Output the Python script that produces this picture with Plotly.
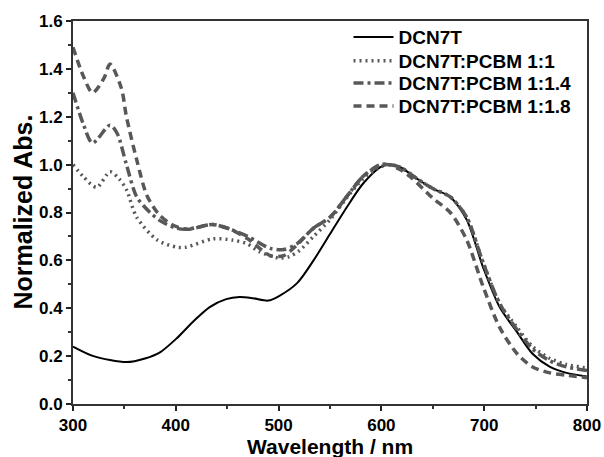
import plotly.graph_objects as go

wl_a = [300, 320, 352, 370, 385, 401, 417, 433, 449, 462, 475, 490, 500, 518, 534, 550, 566, 582, 599, 607, 618, 635, 650, 667, 683, 699, 715, 732, 747, 764, 780, 800]
dcn7t = [0.24, 0.20, 0.175, 0.19, 0.217, 0.275, 0.345, 0.405, 0.438, 0.447, 0.442, 0.432, 0.45, 0.505, 0.60, 0.71, 0.82, 0.92, 0.99, 1.0, 0.99, 0.94, 0.90, 0.865, 0.77, 0.57, 0.405, 0.30, 0.21, 0.155, 0.13, 0.115]

wl_b = [300, 310, 323, 336, 345, 352, 362, 382, 401, 410, 436, 455, 469, 482, 500, 510, 520, 534, 550, 566, 582, 599, 607, 618, 635, 650, 667, 683, 699, 715, 732, 747, 764, 780, 800]
blend_11 = [1.0, 0.95, 0.905, 0.97, 0.94, 0.895, 0.78, 0.685, 0.655, 0.655, 0.69, 0.685, 0.67, 0.635, 0.61, 0.615, 0.64, 0.70, 0.77, 0.86, 0.94, 0.99, 1.0, 0.99, 0.94, 0.90, 0.865, 0.78, 0.59, 0.42, 0.32, 0.24, 0.19, 0.165, 0.15]

wl_c = [300, 310, 319, 336, 343, 352, 362, 375, 385, 400, 411, 436, 453, 470, 492, 505, 518, 534, 550, 566, 582, 599, 607, 618, 635, 650, 667, 683, 699, 715, 732, 747, 764, 780, 800]
blend_114 = [1.30, 1.17, 1.09, 1.165, 1.13, 1.0, 0.865, 0.80, 0.765, 0.735, 0.73, 0.75, 0.73, 0.70, 0.65, 0.645, 0.67, 0.735, 0.78, 0.865, 0.95, 1.0, 1.0, 0.99, 0.94, 0.90, 0.865, 0.78, 0.59, 0.42, 0.31, 0.23, 0.18, 0.155, 0.14]

wl_d = [300, 310, 319, 330, 336, 347, 352, 362, 372, 384, 396, 411, 436, 453, 470, 492, 505, 518, 534, 550, 566, 582, 599, 607, 618, 628, 650, 667, 683, 699, 715, 732, 747, 764, 780, 800]
blend_118 = [1.49, 1.37, 1.30, 1.36, 1.42, 1.32, 1.20, 1.02, 0.87, 0.79, 0.75, 0.73, 0.75, 0.73, 0.69, 0.62, 0.62, 0.665, 0.735, 0.78, 0.865, 0.95, 1.0, 1.0, 0.98, 0.95, 0.86, 0.80, 0.685, 0.49, 0.32, 0.21, 0.155, 0.13, 0.12, 0.11]

names = ["DCN7T", "DCN7T:PCBM 1:1", "DCN7T:PCBM 1:1.4", "DCN7T:PCBM 1:1.8"]
x_title = "Wavelength / nm"
y_title = "Normalized Abs."

gray = "#585858"
fig = go.Figure()
fig.add_trace(go.Scatter(x=wl_a, y=dcn7t, mode="lines", name=names[0], legend="legend", showlegend=True,
                         line=dict(color="black", width=2, shape="spline", smoothing=0.8)))
fig.add_trace(go.Scatter(x=wl_b, y=blend_11, mode="lines", name=names[1], legend="legend2", showlegend=True,
                         line=dict(color=gray, width=3.5, dash="2px,4px", shape="spline", smoothing=0.8)))
fig.add_trace(go.Scatter(x=wl_c, y=blend_114, mode="lines", name=names[2], legend="legend3", showlegend=True,
                         line=dict(color=gray, width=3.5, dash="10px,4px,3px,4px", shape="spline", smoothing=0.8)))
fig.add_trace(go.Scatter(x=wl_d, y=blend_118, mode="lines", name=names[3], legend="legend4", showlegend=True,
                         line=dict(color=gray, width=3.5, dash="8px,5px", shape="spline", smoothing=0.8)))

legend_font = dict(family="Liberation Sans", size=19, color="black", weight="bold")
def leg(y):
    return dict(x=0.536, y=y, xanchor="left", yanchor="middle", bgcolor="rgba(0,0,0,0)",
                font=legend_font, itemwidth=40, visible=True)

tick_font = dict(family="Liberation Sans", size=17, color="black", weight="bold")
title_font_x = dict(family="Liberation Sans", size=21, color="black", weight="bold")
title_font_y = dict(family="Liberation Sans", size=25, color="black", weight="bold")
fig.update_layout(
    width=604, height=457,
    margin=dict(l=73, r=17, t=21, b=53),
    showlegend=True,
    paper_bgcolor="white", plot_bgcolor="white",
    font=dict(family="Liberation Sans", color="black"),
    legend=leg(0.958), legend2=leg(0.896), legend3=leg(0.838), legend4=leg(0.778),
    xaxis=dict(range=[300, 800], tickvals=[300, 400, 500, 600, 700, 800], ticks="outside", ticklen=5, tickwidth=1.5, tickcolor="#222",
               showline=True, linecolor="#333", linewidth=2, mirror=True, showgrid=False, zeroline=False, automargin=False,
               tickfont=tick_font,
               minor=dict(tickvals=[350, 450, 550, 650, 750], ticks="outside", ticklen=3, tickcolor="#333")),
    yaxis=dict(range=[0, 1.6], tickvals=[0, 0.2, 0.4, 0.6, 0.8, 1.0, 1.2, 1.4, 1.6], tickformat=".1f", ticks="outside", ticklen=5, tickwidth=1.5, tickcolor="#222",
               showline=True, linecolor="#333", linewidth=2, mirror=True, showgrid=False, zeroline=False, automargin=False,
               tickfont=tick_font,
               minor=dict(tickvals=[0.1, 0.3, 0.5, 0.7, 0.9, 1.1, 1.3, 1.5], ticks="outside", ticklen=3, tickcolor="#333")),
    annotations=[
        dict(text=x_title, xref="paper", yref="paper", x=0.5, y=-0.0757, xanchor="center", yanchor="top",
             showarrow=False, font=title_font_x),
        dict(text=y_title, xref="paper", yref="paper", x=-0.0992, y=0.5, xanchor="center", yanchor="middle",
             textangle=-90, showarrow=False, font=title_font_y),
    ],
)
fig.write_html("out.html", config={"displayModeBar": False},
               post_script="document.body.style.margin='0';document.body.style.overflow='hidden';")
